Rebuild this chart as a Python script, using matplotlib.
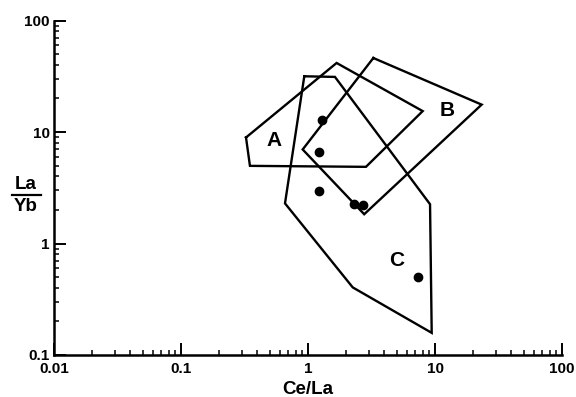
import matplotlib
matplotlib.use("Agg")
import matplotlib.pyplot as plt
from matplotlib.lines import Line2D
from matplotlib.ticker import LogLocator, NullFormatter, FixedLocator, FixedFormatter

plt.rcParams['font.family'] = ['Liberation Sans', 'DejaVu Sans']

# Field polygons (Ce/La, La/Yb)
polyA_x = [0.325, 0.349, 2.86, 8.0, 1.68]
polyA_y = [8.93, 4.97, 4.87, 15.4, 41.6]
polyB_x = [3.27, 23.3, 2.77, 0.908]
polyB_y = [46.1, 17.6, 1.83, 6.97]
polyC_x = [0.935, 1.63, 9.14, 9.42, 2.25, 0.659]
polyC_y = [31.6, 31.2, 2.25, 0.158, 0.404, 2.29]

# Sample points
pts_x = [1.28, 1.21, 1.21, 2.30, 2.72, 7.39]
pts_y = [12.8, 6.63, 2.95, 2.25, 2.21, 0.503]

# Field labels
labels = ['A', 'B', 'C']
label_x = [0.54, 12.5, 4.99]
label_y = [8.45, 15.7, 0.71]

xticks = [0.01, 0.1, 1, 10, 100]
xticklabels = ['0.01', '0.1', '1', '10', '100']
yticks = [0.1, 1, 10, 100]
yticklabels = ['0.1', '1', '10', '100']

fig = plt.figure(figsize=(5.76, 3.97), dpi=100)
ax = fig.add_axes([54/576, 1-355/397, (562-54)/576, (355-20.5)/397])
ax.set_xscale('log')
ax.set_yscale('log')
ax.set_xlim(0.01, 100)
ax.set_ylim(0.1, 100)

lw = 1.7
for px, py in [(polyA_x, polyA_y), (polyB_x, polyB_y), (polyC_x, polyC_y)]:
    ax.plot(list(px) + [px[0]], list(py) + [py[0]], color='black', lw=lw,
            solid_joinstyle='miter')

ax.plot(pts_x, pts_y, 'o', color='black', markersize=6)

for t, x, y in zip(labels, label_x, label_y):
    ax.text(x, y, t, fontsize=15, fontweight='bold', ha='center', va='center')

for s in ['top', 'right']:
    ax.spines[s].set_visible(False)
for s in ['left', 'bottom']:
    ax.spines[s].set_linewidth(1.8)

ax.xaxis.set_major_locator(FixedLocator(xticks))
ax.xaxis.set_major_formatter(FixedFormatter(xticklabels))
ax.yaxis.set_major_locator(FixedLocator(yticks))
ax.yaxis.set_major_formatter(FixedFormatter(yticklabels))
ax.xaxis.set_minor_locator(LogLocator(base=10, subs=range(2, 10), numticks=20))
ax.yaxis.set_minor_locator(LogLocator(base=10, subs=range(2, 10), numticks=20))
ax.xaxis.set_minor_formatter(NullFormatter())
ax.yaxis.set_minor_formatter(NullFormatter())

ax.tick_params(which='major', direction='in', length=8.5, width=1.4, labelsize=11)
ax.tick_params(which='minor', direction='in', length=3.5, width=1.1)
ax.tick_params(axis='x', which='major', pad=5)
ax.tick_params(axis='y', which='major', pad=3)
for lab in ax.get_xticklabels() + ax.get_yticklabels():
    lab.set_fontweight('bold')

ax.set_xlabel('Ce/La', fontsize=13.5, fontweight='bold', labelpad=4)

# Fraction-style y label
fig.text(26/576, 1-184/397, 'La', fontsize=13.5, fontweight='bold', ha='center', va='center')
fig.text(26/576, 1-206/397, 'Yb', fontsize=13.5, fontweight='bold', ha='center', va='center')
fig.add_artist(Line2D([12/576, 41/576], [1-194.5/397, 1-194.5/397], color='black', lw=1.6))

fig.savefig('out.png', dpi=100)
